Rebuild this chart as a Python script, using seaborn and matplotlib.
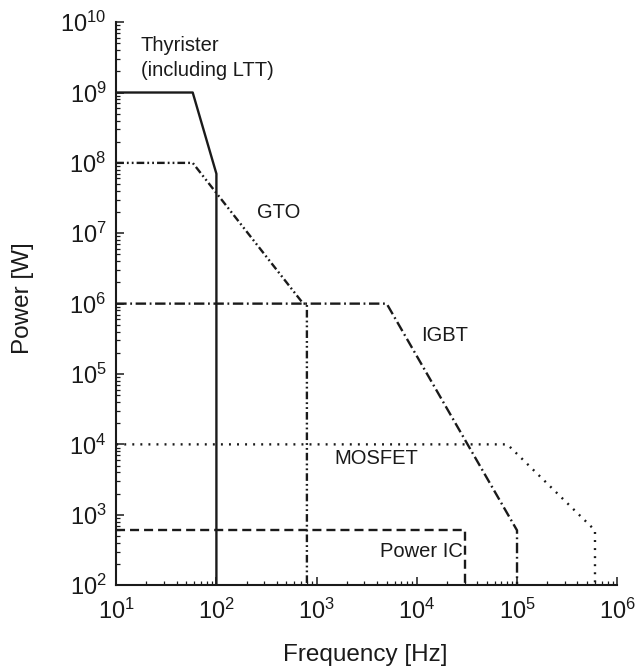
import matplotlib
matplotlib.use("Agg")
import matplotlib.pyplot as plt
import seaborn as sns
import pandas as pd
from matplotlib.ticker import LogLocator, LogFormatterSciNotation, NullFormatter

# ---- data ----
thyristor_f = [10, 58, 100, 100]
thyristor_p = [1e9, 1e9, 7e7, 1e2]
gto_f = [10, 58, 735, 800, 800]
gto_p = [1e8, 1e8, 1e6, 1e6, 1e2]
igbt_f = [10, 5000, 1e5, 1e5]
igbt_p = [1e6, 1e6, 6e2, 1e2]
mosfet_f = [10, 8e4, 6e5, 6e5]
mosfet_p = [1e4, 1e4, 6e2, 1e2]
poweric_f = [10, 3e4, 3e4]
poweric_p = [6e2, 6e2, 1e2]

devices = ["Thyristor", "GTO", "IGBT", "MOSFET", "Power IC"]
label_texts = ["Thyrister\n(including LTT)", "GTO", "IGBT", "MOSFET", "Power IC"]
label_f = [17.5, 255, 1.1e4, 1.5e3, 2.85e4]
label_p = [3.1e9, 2.0e7, 3.5e5, 6.2e3, 3.0e2]

series = {
    "Thyristor": (thyristor_f, thyristor_p),
    "GTO": (gto_f, gto_p),
    "IGBT": (igbt_f, igbt_p),
    "MOSFET": (mosfet_f, mosfet_p),
    "Power IC": (poweric_f, poweric_p),
}
rows = []
for name, (fs, ps) in series.items():
    for i, (f, p) in enumerate(zip(fs, ps)):
        rows.append({"device": name, "order": i, "freq": f, "power": p})
df = pd.DataFrame(rows)

sns.set_theme(style="ticks")
plt.rcParams["font.family"] = ["Liberation Sans", "DejaVu Sans"]
plt.rcParams["mathtext.fontset"] = "custom"
plt.rcParams["mathtext.rm"] = "Liberation Sans"
plt.rcParams["mathtext.it"] = "Liberation Sans:italic"
plt.rcParams["lines.scale_dashes"] = False

fig = plt.figure(figsize=(6.35, 6.71), dpi=100)
ax = fig.add_axes([0.183, 0.128, 0.789, 0.839])

dashes = {
    "Thyristor": "",
    "GTO": (5.5, 2.2, 1.3, 2.2, 1.3, 2.2),
    "IGBT": (7.5, 2.6, 1.3, 2.6),
    "MOSFET": (1.4, 4.4),
    "Power IC": (6.5, 3.6),
}
sns.lineplot(data=df, x="freq", y="power", hue="device", style="device",
             hue_order=devices, style_order=devices,
             palette={d: "#1a1a1a" for d in devices}, dashes=dashes,
             estimator=None, sort=False, units="device", linewidth=1.7,
             legend=False, ax=ax)

ax.set_xscale("log")
ax.set_yscale("log")
ax.set_xlim(10, 1e6)
ax.set_ylim(1e2, 1e10)

ax.xaxis.set_major_locator(LogLocator(base=10, numticks=20))
ax.yaxis.set_major_locator(LogLocator(base=10, numticks=20))
ax.xaxis.set_minor_locator(LogLocator(base=10, subs=range(2, 10), numticks=100))
ax.yaxis.set_minor_locator(LogLocator(base=10, subs=range(2, 10), numticks=100))
ax.xaxis.set_major_formatter(LogFormatterSciNotation())
ax.yaxis.set_major_formatter(LogFormatterSciNotation())
ax.xaxis.set_minor_formatter(NullFormatter())
ax.yaxis.set_minor_formatter(NullFormatter())

ax.tick_params(which="major", direction="in", length=6, width=1.1,
               labelsize=17, color="#1a1a1a", labelcolor="#1a1a1a")
ax.tick_params(which="minor", direction="in", length=3, width=0.9, color="#1a1a1a")
ax.tick_params(axis="y", which="major", pad=7)
ax.tick_params(axis="x", which="major", pad=10)

for s in ["top", "right"]:
    ax.spines[s].set_visible(False)
for s in ["left", "bottom"]:
    ax.spines[s].set_linewidth(1.5)
    ax.spines[s].set_color("#1a1a1a")

ax.set_xlabel("Frequency [Hz]", fontsize=17.5, color="#1a1a1a")
ax.set_ylabel("Power [W]", fontsize=17.5, color="#1a1a1a")
ax.xaxis.set_label_coords(0.497, -0.105)
ax.yaxis.set_label_coords(-0.165, 0.51)

for txt, f, p in zip(label_texts, label_f, label_p):
    ha = "right" if txt == "Power IC" else "left"
    ax.text(f, p, txt, fontsize=14.5, ha=ha, va="center", color="#1a1a1a",
            linespacing=1.45)

fig.savefig("out.png", dpi=100, facecolor="white")
